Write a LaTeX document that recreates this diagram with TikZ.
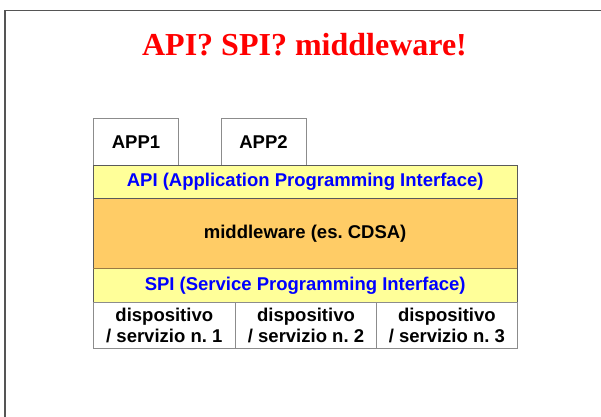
\documentclass[tikz,border=0pt]{standalone}
\usepackage{fontspec}
\setmainfont{Liberation Sans}
\newfontfamily\titlefont{Liberation Serif}
\frenchspacing
\definecolor{bandyellow}{HTML}{FFFF99}
\definecolor{bandorange}{HTML}{FFCC66}
\definecolor{framegray}{HTML}{555555}
\definecolor{boxgray}{HTML}{8C8C8C}
\definecolor{bandline}{HTML}{5A5A5A}
\definecolor{mwline}{HTML}{9A7A45}
\begin{document}
\begin{tikzpicture}[x=1pt,y=-1pt,
  cell/.style={anchor=north west,inner sep=0pt,outer sep=0pt,draw=boxgray,line width=0.9pt,fill=white,
    font=\bfseries\fontsize{18.5}{20.5}\selectfont,align=center},
  band/.style={anchor=north west,inner sep=0pt,outer sep=0pt,draw=bandline,line width=0.9pt,
    minimum width=423.7pt,font=\bfseries\fontsize{18.5}{20.5}\selectfont},
  iface/.style={band,fill=bandyellow,text=blue},
]
\useasboundingbox (0,0) rectangle (601,416);
% slide frame
\draw[framegray,line width=1.3pt] (5,420) -- (5,10.3) -- (605,10.3);
% title
\node[text=red,font=\titlefont\bfseries\fontsize{32}{36}\selectfont,anchor=base] (title) at (304.5,55) {API? SPI? middleware!};
% applications
\node[cell,minimum width=85.4pt,minimum height=46.7pt] (app1) at (93.3,118.3) {APP1};
\node[cell,minimum width=85pt,minimum height=46.7pt] (app2) at (221,118.3) {APP2};
% layers
\node[iface,minimum height=33.3pt] (api) at (93.3,165) {API (Application Programming Interface)};
\node[band,fill=bandorange,minimum height=70pt] (mw) at (93.3,198.3) {middleware (es. CDSA)};
\node[iface,minimum height=34pt] (spi) at (93.3,268.3) {SPI (Service Programming Interface)};
\draw[mwline,line width=1.6pt] (mw.south west) -- (mw.south east);
% devices / services
\node[cell,minimum width=142pt,minimum height=46pt] (dev1) at (93.3,302.3) {dispositivo\\/ servizio n. 1};
\node[cell,minimum width=141.4pt,minimum height=46pt] (dev2) at (235.3,302.3) {dispositivo\\/ servizio n. 2};
\node[cell,minimum width=140.3pt,minimum height=46pt] (dev3) at (376.7,302.3) {dispositivo\\/ servizio n. 3};
\end{tikzpicture}
\end{document}
